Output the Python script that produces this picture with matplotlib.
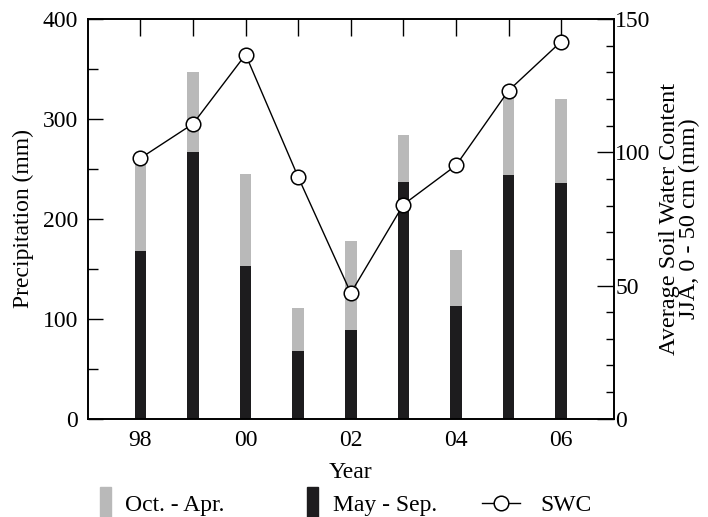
import matplotlib.pyplot as plt
import matplotlib.patches as patches
from matplotlib.legend_handler import HandlerPatch
from matplotlib.lines import Line2D
from matplotlib.ticker import MultipleLocator, FixedLocator

plt.rcParams['font.family'] = ['Liberation Serif', 'DejaVu Serif']

years = [98, 99, 100, 101, 102, 103, 104, 105, 106]
year_labels = ['98', '00', '02', '04', '06']
# precipitation (mm), May - Sep. and Oct. - Apr.
may_sep = [168, 267, 153, 68, 89, 237, 113, 244, 236]
oct_apr = [90, 80, 92, 43, 89, 47, 56, 81, 84]
# average soil water content JJA, 0 - 50 cm (mm)
swc = [97.8, 110.7, 136.7, 90.7, 47.2, 80.4, 95.1, 123.2, 141.6]

fs = 17
gray = '#b9b9b9'
black = '#1d1c1e'

fig = plt.figure(figsize=(7.08, 5.17), dpi=100)
ax1 = fig.add_axes([0.124, 0.19, 0.743, 0.773])

ax1.bar(years, may_sep, width=0.22, color=black, zorder=2)
ax1.bar(years, oct_apr, width=0.22, bottom=may_sep, color=gray, zorder=2)

ax1.set_xlim(97, 107)
ax1.set_ylim(0, 400)
ax1.xaxis.set_major_locator(FixedLocator([98, 100, 102, 104, 106]))
ax1.set_xticklabels(year_labels)
ax1.xaxis.set_minor_locator(FixedLocator(years))
ax1.tick_params(axis='x', which='both', direction='in', bottom=False, top=True,
                length=12, width=1, labelsize=fs, pad=8)
ax1.yaxis.set_major_locator(MultipleLocator(100))
ax1.yaxis.set_minor_locator(MultipleLocator(50))
ax1.tick_params(axis='y', which='major', direction='in', length=11, width=1,
                labelsize=fs, pad=7)
ax1.tick_params(axis='y', which='minor', direction='in', length=7, width=1)
ax1.set_ylabel('Precipitation (mm)', fontsize=fs, labelpad=6)
ax1.set_xlabel('Year', fontsize=fs, labelpad=8)

ax2 = ax1.twinx()
ax2.plot(years, swc, color='black', lw=1.0, marker='o', markersize=10.5,
         markerfacecolor='white', markeredgecolor='black', markeredgewidth=1.1,
         zorder=3, clip_on=False)
ax2.set_ylim(0, 150)
ax2.yaxis.set_major_locator(MultipleLocator(50))
ax2.yaxis.set_minor_locator(MultipleLocator(10))
ax2.tick_params(axis='y', which='major', direction='in', length=12, width=1,
                labelsize=fs, pad=1)
ax2.tick_params(axis='y', which='minor', direction='in', length=6, width=1)
ax2.set_ylabel('Average Soil Water Content\nJJA, 0 - 50 cm (mm)', fontsize=17.5,
               linespacing=0.95, labelpad=6)

for ax in (ax1, ax2):
    for s in ax.spines.values():
        s.set_linewidth(1.2)


def tall_bar(legend, orig_handle, xdescent, ydescent, width, height, fontsize):
    # narrow swatch that runs down past the bottom edge of the figure
    return patches.Rectangle((-xdescent, -ydescent + height / 2 - 22), width, 33.5)


leg_y = 0.022
entries = [
    (patches.Patch(color=gray), 'Oct. - Apr.', 0.1412, 0.47, 0.6),
    (patches.Patch(color=black), 'May - Sep.', 0.4336, 0.47, 0.62),
    (Line2D([], [], color='black', lw=1.0, marker='o', markersize=10.5,
            markerfacecolor='white', markeredgewidth=1.1), 'SWC', 0.681, 1.6, 0.85),
]
for handle, label, x0, hlen, hpad in entries:
    leg = fig.legend([handle], [label], loc='center left', bbox_to_anchor=(x0, leg_y),
                     frameon=False, fontsize=fs, handlelength=hlen, handletextpad=hpad,
                     borderpad=0, borderaxespad=0,
                     handler_map={patches.Patch: HandlerPatch(patch_func=tall_bar)})

fig.savefig('out.png', dpi=100)
